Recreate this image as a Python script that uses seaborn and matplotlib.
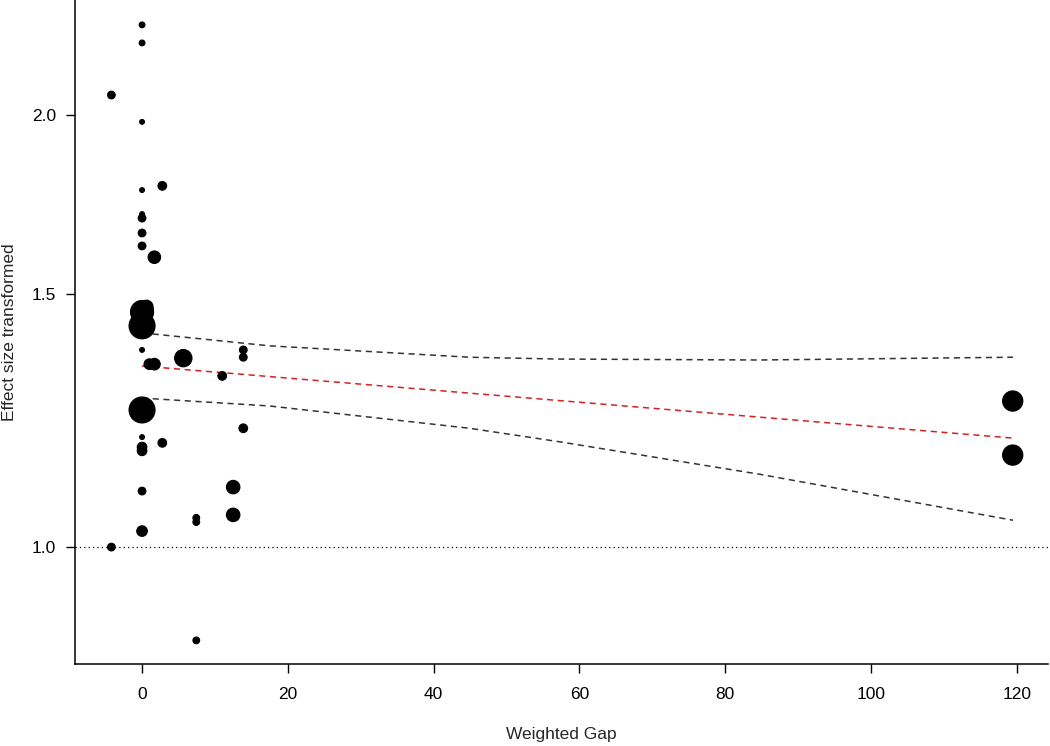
import numpy as np
import pandas as pd
import matplotlib
matplotlib.use("Agg")
import matplotlib.pyplot as plt
import seaborn as sns

# ---- data ----
gap = [0, 0, -4.21, 0, 2.78, 0, 0, 0, 0, 0, 1.69, 0.59, 0, 0, 0, 1.0, 1.7,
       5.66, 13.89, 13.89, 11.0, 0, 0, 0, 0, 2.78, 13.89, 12.5, 0, 7.44, 7.44,
       12.5, 0, -4.21, 7.44, 119.46, 119.46]
effect = [2.311, 2.245, 2.065, 1.978, 1.785, 1.773, 1.706, 1.695, 1.655, 1.621,
          1.592, 1.470, 1.458, 1.426, 1.372, 1.341, 1.341, 1.354, 1.372, 1.356,
          1.316, 1.246, 1.193, 1.174, 1.167, 1.182, 1.210, 1.101, 1.094, 1.048,
          1.041, 1.053, 1.026, 1.000, 0.861, 1.264, 1.159]
weight = [3.6, 3.6, 6.4, 2.5, 8.1, 2.5, 2.5, 6.4, 6.4, 6.4, 16.9, 19.6, 57.6,
          72.9, 2.5, 12.1, 14.4, 32.4, 6.4, 6.4, 8.1, 72.9, 2.5, 10.0, 10.0,
          8.1, 8.1, 19.6, 6.4, 4.9, 4.9, 19.6, 12.1, 6.4, 4.9, 44.1, 44.1]

# regression line and confidence bounds
fit_x = [0, 119.5]
fit_y = [1.337, 1.191]
ci_x = [0, 17.5, 44.9, 57.3, 84.7, 119.5]
ci_upper = [1.410, 1.381, 1.356, 1.352, 1.350, 1.356]
ci_lower = [1.270, 1.254, 1.210, 1.184, 1.124, 1.044]

x_ticks = [0, 20, 40, 60, 80, 100, 120]
y_ticks = [1.0, 1.5, 2.0]
y_ticklabels = ["1.0", "1.5", "2.0"]

df = pd.DataFrame({"gap": gap, "effect": effect, "weight": weight})

sns.set_style("ticks")
plt.rcParams["font.family"] = ["Liberation Sans", "DejaVu Sans"]

fig = plt.figure(figsize=(10.5, 7.46), dpi=100)
ax = fig.add_axes([75 / 1050, (746 - 664) / 746, (1048 - 75) / 1050, 664 / 746])

ax.set_yscale("log")
ax.set_xlim(-9.2, 124.3)
ax.set_ylim(0.829, 2.405)

ax.axhline(1.0, color="black", linestyle=(0, (1, 2.5)), linewidth=0.9, zorder=1)

ax.plot(ci_x, ci_upper, color="#333333", linestyle=(0, (4, 3)), linewidth=1.1, zorder=2)
ax.plot(ci_x, ci_lower, color="#333333", linestyle=(0, (4, 3)), linewidth=1.1, zorder=2)
ax.plot(fit_x, fit_y, color="#d62020", linestyle=(0, (4, 3)), linewidth=1.1, zorder=2)

wmax = max(weight)
sns.scatterplot(data=df, x="gap", y="effect", size="weight",
                sizes=(0, (26 * 0.72) ** 2), size_norm=(0, wmax),
                color="black", edgecolor="black", linewidth=0.8, legend=False,
                ax=ax, zorder=3)

ax.set_xticks(x_ticks)
ax.set_xticklabels([str(t) for t in x_ticks])
ax.yaxis.set_major_locator(matplotlib.ticker.FixedLocator(y_ticks))
ax.yaxis.set_minor_locator(matplotlib.ticker.NullLocator())
ax.set_yticklabels(y_ticklabels)

ax.tick_params(axis="both", which="major", length=6.8, width=1.0, labelsize=12.5,
               color="black", labelcolor="black", direction="out")
ax.tick_params(axis="x", pad=10)
ax.tick_params(axis="y", pad=7)

for side in ["top", "right"]:
    ax.spines[side].set_visible(False)
for side in ["left", "bottom"]:
    ax.spines[side].set_color("black")
    ax.spines[side].set_linewidth(1.1)

ax.set_xlabel("Weighted Gap", fontsize=12.5)
ax.set_ylabel("Effect size transformed", fontsize=12.5)
ax.xaxis.set_label_coords(0.5, -(735 - 664) / 664)
ax.xaxis.label.set_va("center")
ax.yaxis.set_label_coords((10 - 75) / 973, 0.5)
ax.yaxis.label.set_va("center")

fig.savefig("out.png", dpi=100, facecolor="white")
